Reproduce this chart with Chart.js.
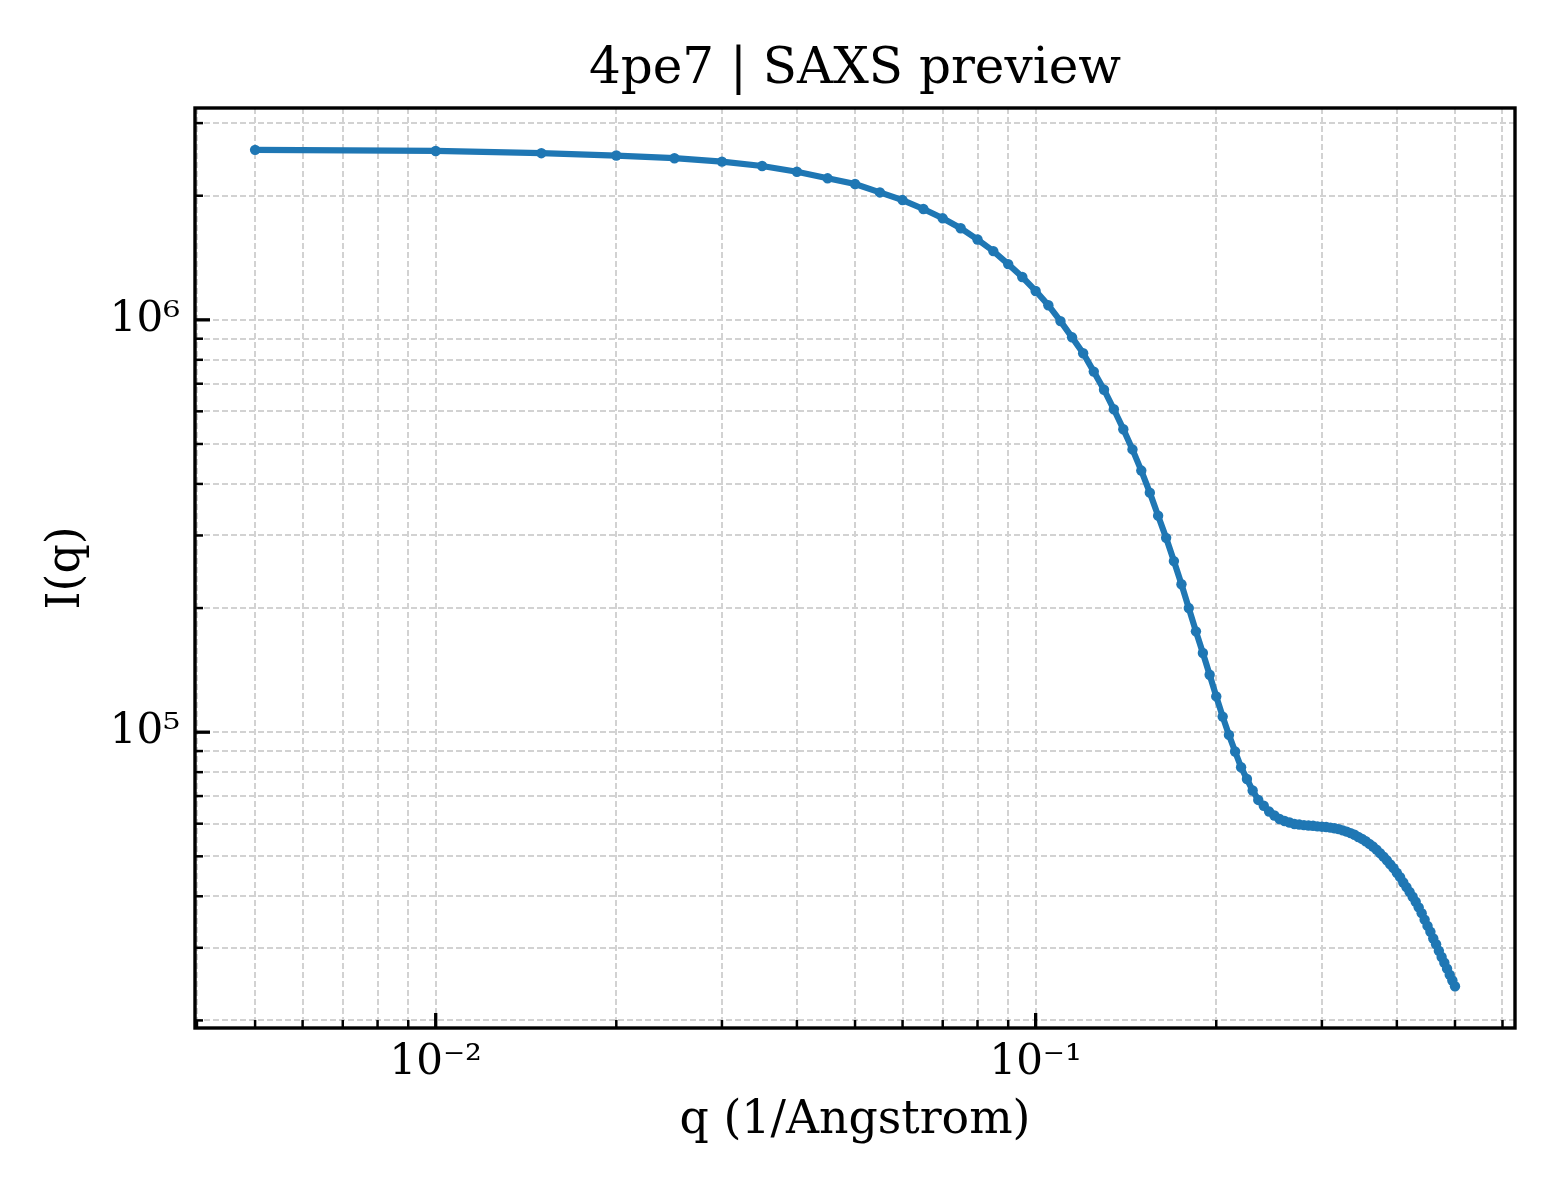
<!DOCTYPE html>
<html>
<head>
<meta charset="utf-8">
<title>4pe7 | SAXS preview</title>
<script src="https://cdn.jsdelivr.net/npm/chart.js@4.4.1/dist/chart.umd.min.js"></script>
<style>
  html, body { margin: 0; padding: 0; background: #ffffff; }
  canvas { display: block; }
</style>
</head>
<body>
<canvas id="saxsChart" width="1560" height="1200"></canvas>
<script>
// scattering vector q (1/Angstrom)
const qValues = [
    0.005, 0.010, 0.015, 0.020, 0.025, 0.030, 0.035, 0.040, 0.045, 0.050,
    0.055, 0.060, 0.065, 0.070, 0.075, 0.080, 0.085, 0.090, 0.095, 0.100,
    0.105, 0.110, 0.115, 0.120, 0.125, 0.130, 0.135, 0.140, 0.145, 0.150,
    0.155, 0.160, 0.165, 0.170, 0.175, 0.180, 0.185, 0.190, 0.195, 0.200,
    0.205, 0.210, 0.215, 0.220, 0.225, 0.230, 0.235, 0.240, 0.245, 0.250,
    0.255, 0.260, 0.265, 0.270, 0.275, 0.280, 0.285, 0.290, 0.295, 0.300,
    0.305, 0.310, 0.315, 0.320, 0.325, 0.330, 0.335, 0.340, 0.345, 0.350,
    0.355, 0.360, 0.365, 0.370, 0.375, 0.380, 0.385, 0.390, 0.395, 0.400,
    0.405, 0.410, 0.415, 0.420, 0.425, 0.430, 0.435, 0.440, 0.445, 0.450,
    0.455, 0.460, 0.465, 0.470, 0.475, 0.480, 0.485, 0.490, 0.495, 0.500
];

// intensity I(q)
const intensity = [
    2584000, 2568000, 2536000, 2503000, 2466000, 2420000, 2361000, 2287000, 2204000, 2135000,
    2037000, 1952000, 1857000, 1763000, 1668000, 1566000, 1468000, 1365000, 1270000, 1175000,
    1085000, 993000, 907000, 830000, 749000, 677000, 607000, 543000, 485000, 431000,
    381000, 335000, 296000, 260000, 228500, 200000, 175600, 155600, 137800, 122100,
    109100, 98500, 89800, 82200, 77000, 72200, 68500, 66300, 64200, 62800,
    61600, 60900, 60400, 59900, 59700, 59500, 59400, 59300, 59100, 59000,
    58900, 58700, 58500, 58200, 57800, 57400, 56900, 56400, 55700, 55100,
    54400, 53600, 52800, 51900, 50900, 49900, 48900, 47800, 46800, 45600,
    44500, 43200, 42100, 41000, 39900, 38800, 37600, 36400, 35100, 33900,
    32800, 31600, 30600, 29500, 28500, 27600, 26700, 25800, 25000, 24200
];

const xTickValues = [
    0.004, 0.005, 0.006, 0.007, 0.008, 0.009,
    0.01, 0.02, 0.03, 0.04, 0.05, 0.06, 0.07, 0.08, 0.09,
    0.1, 0.2, 0.3, 0.4, 0.5, 0.6
];
const xTickLabels = [
    '', '', '', '', '', '',
    '10\u207B\u00B2', '', '', '', '', '', '', '', '',
    '10\u207B\u00B9', '', '', '', '', ''
];

const yTickValues = [
    20000, 30000, 40000, 50000, 60000, 70000, 80000, 90000,
    100000, 200000, 300000, 400000, 500000, 600000, 700000, 800000, 900000,
    1000000, 2000000, 3000000
];
const yTickLabels = [
    '', '', '', '', '', '', '', '',
    '10\u2075', '', '', '', '', '', '', '', '',
    '10\u2076', '', ''
];

const serif = 'DejaVu Serif';

// matplotlib-like box frame with inward ticks on the bottom and left spines
const frameAndTicks = {
    id: 'frameAndTicks',
    afterDraw(chart) {
        const ctx = chart.ctx;
        const area = chart.chartArea;
        const xs = chart.scales.x;
        const ys = chart.scales.y;
        ctx.save();
        ctx.strokeStyle = '#000000';
        ctx.lineCap = 'butt';
        xs.ticks.forEach(function(t, i) {
            const major = xTickLabels[i] !== '';
            const px = xs.getPixelForValue(t.value);
            ctx.lineWidth = major ? 3.3 : 2.5;
            ctx.beginPath();
            ctx.moveTo(px, area.bottom);
            ctx.lineTo(px, area.bottom - (major ? 15 : 8));
            ctx.stroke();
        });
        ys.ticks.forEach(function(t, i) {
            const major = yTickLabels[i] !== '';
            const py = ys.getPixelForValue(t.value);
            ctx.lineWidth = major ? 3.3 : 2.5;
            ctx.beginPath();
            ctx.moveTo(area.left, py);
            ctx.lineTo(area.left + (major ? 15 : 8), py);
            ctx.stroke();
        });
        ctx.lineWidth = 3.4;
        ctx.strokeRect(area.left, area.top, area.right - area.left, area.bottom - area.top);
        ctx.restore();
    }
};

new Chart(document.getElementById('saxsChart'), {
    type: 'line',
    data: {
        datasets: [{
            label: 'I(q)',
            data: qValues.map((q, i) => ({ x: q, y: intensity[i] })),
            borderColor: '#1f77b4',
            backgroundColor: '#1f77b4',
            pointBackgroundColor: '#1f77b4',
            borderWidth: 6.2,
            pointRadius: 5.2,
            pointBorderWidth: 0,
            tension: 0,
            fill: false
        }]
    },
    options: {
        responsive: false,
        devicePixelRatio: 1,
        animation: false,
        layout: {
            padding: { left: 0, right: 45, top: 0, bottom: 0 }
        },
        plugins: {
            legend: { display: false },
            tooltip: { enabled: false },
            title: {
                display: true,
                fullSize: false,
                text: '4pe7 | SAXS preview',
                color: '#000000',
                font: { family: serif, size: 50, weight: 'normal', lineHeight: 1.2 },
                padding: { top: 40, bottom: 8 }
            }
        },
        scales: {
            x: {
                type: 'logarithmic',
                min: 0.00397,
                max: 0.6295,
                afterBuildTicks: function(scale) {
                    scale.ticks = xTickValues.map(v => ({ value: v }));
                },
                afterFit: function(scale) {
                    scale.height = 172;
                },
                ticks: {
                    autoSkip: false,
                    maxRotation: 0,
                    padding: 10,
                    color: '#000000',
                    font: { family: serif, size: 42 },
                    callback: function(value, index) {
                        return xTickLabels[index];
                    }
                },
                grid: {
                    color: '#d2d2d2',
                    lineWidth: 2,
                    drawTicks: false
                },
                border: { display: false, dash: [6, 3] },
                title: {
                    display: true,
                    text: 'q (1/Angstrom)',
                    color: '#000000',
                    font: { family: serif, size: 45.8, lineHeight: 1.2 },
                    padding: { top: 0, bottom: 51 }
                }
            },
            y: {
                type: 'logarithmic',
                min: 19170,
                max: 3264000,
                afterBuildTicks: function(scale) {
                    scale.ticks = yTickValues.map(v => ({ value: v }));
                },
                afterFit: function(scale) {
                    scale.width = 195;
                },
                ticks: {
                    autoSkip: false,
                    padding: 15,
                    color: '#000000',
                    font: { family: serif, size: 42 },
                    callback: function(value, index) {
                        return yTickLabels[index];
                    }
                },
                grid: {
                    color: '#d2d2d2',
                    lineWidth: 2,
                    drawTicks: false
                },
                border: { display: false, dash: [6, 3] },
                title: {
                    display: true,
                    text: 'I(q)',
                    color: '#000000',
                    font: { family: serif, size: 45.8, lineHeight: 1.2 },
                    padding: { top: 40, bottom: 0 }
                }
            }
        }
    },
    plugins: [frameAndTicks]
});
</script>
</body>
</html>
